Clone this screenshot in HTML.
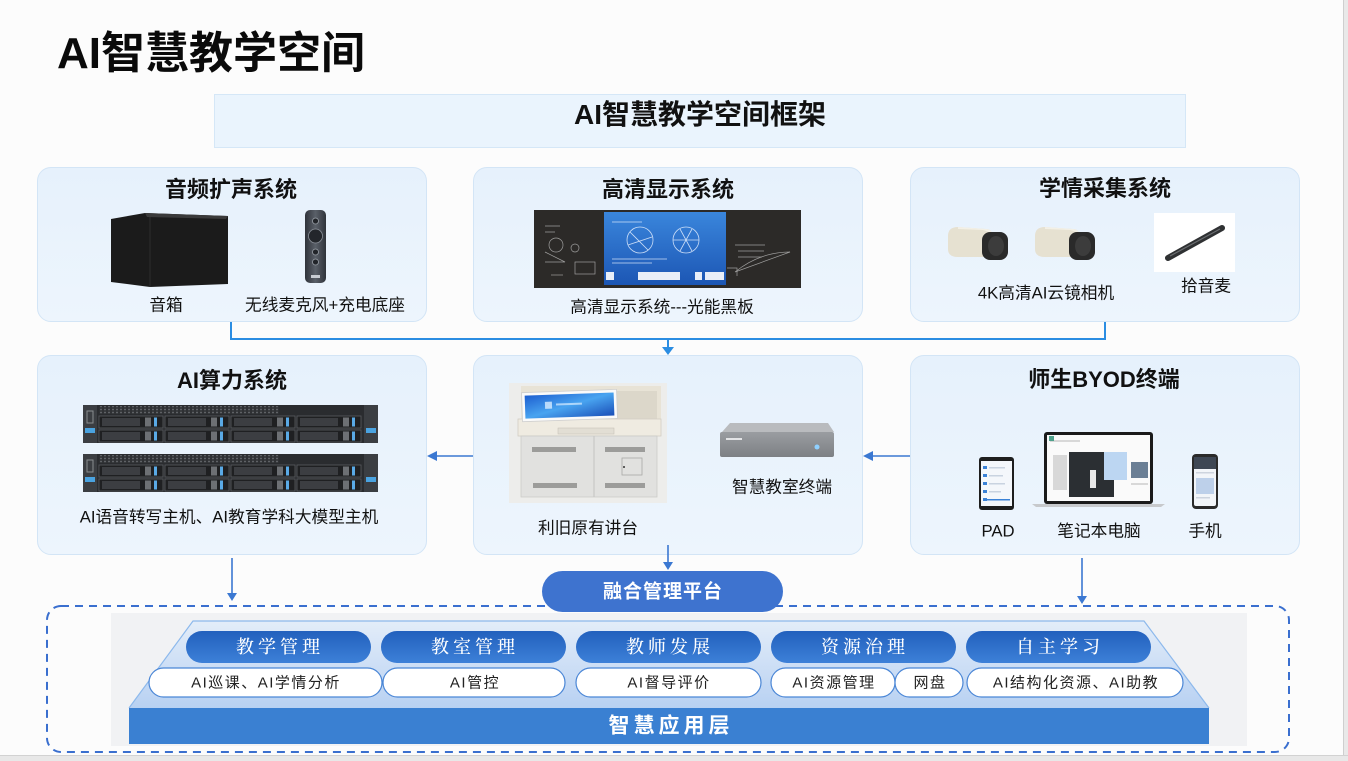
<!DOCTYPE html>
<html><head><meta charset="utf-8">
<style>
*{margin:0;padding:0;box-sizing:border-box}
body{width:1348px;height:761px;position:relative;background:#fcfcfc;font-family:"Liberation Sans","Noto Sans CJK SC",sans-serif;overflow:hidden;color:#111}
.abs{position:absolute}
.box{position:absolute;background:linear-gradient(180deg,#e6f1fc,#edf5fd);border:1px solid #d3e5f6;border-radius:14px}
.tx{position:absolute;transform:translate(-50%,-50%);white-space:nowrap;line-height:1}
.ti{font-size:22px;font-weight:700;color:#111}
.lb{font-size:16.7px;color:#111}
.dp{font-family:"Liberation Serif","Noto Serif CJK SC",serif;font-size:18px;color:#fff;letter-spacing:4px;font-weight:500}
.wp{font-size:15px;color:#222;letter-spacing:1.5px}
</style></head><body>

<div class="abs" style="left:1343px;top:0;width:5px;height:761px;background:#e9e9e9;border-left:1px solid #cfcfcf"></div>
<div class="abs" style="left:0;top:755px;width:1348px;height:6px;background:#e8e8e8;border-top:1px solid #d2d2d2"></div>

<div class="abs" style="left:57px;top:30px;font-size:44px;font-weight:700;line-height:48px;color:#0a0a0a;white-space:nowrap">AI智慧教学空间</div>

<div class="abs" style="left:214px;top:94px;width:972px;height:54px;background:#eaf4fd;border:1px solid #d5e7f7"></div>

<div class="box" style="left:37px;top:167px;width:390px;height:155px"></div>
<div class="box" style="left:473px;top:167px;width:390px;height:155px"></div>
<div class="box" style="left:910px;top:167px;width:390px;height:155px"></div>
<div class="box" style="left:37px;top:355px;width:390px;height:200px"></div>
<div class="box" style="left:473px;top:355px;width:390px;height:200px"></div>
<div class="box" style="left:910px;top:355px;width:390px;height:200px"></div>

<svg class="abs" style="left:0;top:0" width="1348" height="761" viewBox="0 0 1348 761">
<defs>
 <linearGradient id="trap" x1="0" y1="0" x2="0" y2="1"><stop offset="0" stop-color="#e3edf9"/><stop offset="1" stop-color="#b8d1f2"/></linearGradient>
 <linearGradient id="dpg" x1="0" y1="0" x2="0" y2="1"><stop offset="0" stop-color="#2260bd"/><stop offset="1" stop-color="#3d80d8"/></linearGradient>
 <linearGradient id="scr" x1="0" y1="0" x2="0" y2="1"><stop offset="0" stop-color="#3a86dc"/><stop offset="1" stop-color="#1c56b4"/></linearGradient>
 <linearGradient id="win" x1="0" y1="0" x2="1" y2="1"><stop offset="0" stop-color="#1d5fd0"/><stop offset="0.5" stop-color="#49a4f0"/><stop offset="1" stop-color="#1a4fb8"/></linearGradient>
 <linearGradient id="rem" x1="0" y1="0" x2="1" y2="0"><stop offset="0" stop-color="#2f333a"/><stop offset="0.5" stop-color="#5a6069"/><stop offset="1" stop-color="#2f333a"/></linearGradient>
 <linearGradient id="term" x1="0" y1="0" x2="0" y2="1"><stop offset="0" stop-color="#9a9da1"/><stop offset="1" stop-color="#7d8084"/></linearGradient>
 <pattern id="vent" width="4" height="3" patternUnits="userSpaceOnUse"><rect width="4" height="3" fill="#2f3134"/><circle cx="2" cy="1.5" r="0.9" fill="#6a6d72"/></pattern>
 <g id="srv">
  <rect x="0" y="0" width="295" height="38" fill="#2a2c2f"/>
  <rect x="0" y="0" width="14" height="38" fill="#3b3e42"/>
  <rect x="2" y="23" width="10" height="5" fill="#4aa3e0"/>
  <rect x="4" y="6" width="6" height="12" fill="none" stroke="#8a8d90" stroke-width="1"/>
  <rect x="281" y="0" width="14" height="38" fill="#3b3e42"/>
  <rect x="283" y="23" width="10" height="5" fill="#4aa3e0"/>
  <rect x="16" y="1" width="180" height="8" fill="url(#vent)"/>
  <g id="bay"><rect x="16" y="11" width="64" height="12" fill="#1f2022" stroke="#5a5d61" stroke-width="0.8"/><rect x="19" y="13" width="38" height="8" fill="#3c3e42"/><rect x="62" y="12.5" width="6" height="9" fill="#6d7074"/><rect x="71" y="12.5" width="3" height="9" fill="#5aaae6"/></g>
  <use href="#bay" x="66"/><use href="#bay" x="132"/><use href="#bay" x="198"/>
  <use href="#bay" y="14"/><use href="#bay" x="66" y="14"/><use href="#bay" x="132" y="14"/><use href="#bay" x="198" y="14"/>
 </g>
</defs>

<!-- speaker -->
<polygon points="111,219 145,213 228,216 228,284 150,287 111,282" fill="#1b1b1b"/>
<polygon points="145,213 228,216 226,219 147,217" fill="#3a3a3a"/>
<line x1="150" y1="217" x2="150" y2="287" stroke="#2e2e2e" stroke-width="1"/>
<!-- remote -->
<rect x="305" y="210" width="21" height="73" rx="5" fill="url(#rem)"/>
<circle cx="315.5" cy="221" r="3" fill="#22252a" stroke="#9aa0a8" stroke-width="0.8"/>
<circle cx="315.5" cy="236" r="7" fill="#23262b" stroke="#8a9098" stroke-width="0.8"/>
<circle cx="315.5" cy="252" r="3" fill="#22252a" stroke="#9aa0a8" stroke-width="0.8"/>
<circle cx="315.5" cy="262" r="3" fill="#22252a" stroke="#9aa0a8" stroke-width="0.8"/>
<rect x="311" y="275" width="9" height="3" fill="#c8ccd2"/>

<!-- blackboard -->
<rect x="534" y="210" width="267" height="78" fill="#2c2a28"/>
<g stroke="#bbb" stroke-width="0.7" fill="none" opacity="0.8">
 <circle cx="556" cy="245" r="7"/><circle cx="575" cy="248" r="4"/><path d="M545 262 h20 l-20 -10"/>
 <rect x="575" y="262" width="20" height="12"/><path d="M551 275 h12"/>
 <path d="M735 272 q25 -20 55 -20 l-55 20"/><path d="M735 245 h30 M738 251 h26 M738 257 h24"/>
 <path d="M727 268 h10 v8"/><path d="M545 226 h15 M545 232 h10"/>
</g>
<rect x="604" y="212" width="122" height="73" fill="url(#scr)"/>
<g stroke="#e8f1ff" stroke-width="0.8" fill="none" opacity="0.85">
 <circle cx="640" cy="240" r="13"/><circle cx="686" cy="240" r="13"/>
 <path d="M673 240 h26 M680 229 l12 22 M680 251 l12 -22"/><path d="M630 232 l18 18 M628 245 l24 -8"/>
 <path d="M612 222 h30 M612 259 h55 M612 263 h40"/>
</g>
<rect x="606" y="272" width="8" height="8" fill="#e8eef8"/>
<rect x="638" y="272" width="42" height="8" fill="#e8eef8"/>
<rect x="695" y="272" width="7" height="8" fill="#e8eef8"/>
<rect x="705" y="272" width="19" height="8" fill="#e8eef8"/>

<!-- cameras -->
<g>
 <path d="M948 236 q0 -9 10 -9 l28 2 q6 0 6 6 l0 16 q0 6 -6 6 l-28 0 q-10 0 -10 -8z" fill="#e6e1d1"/>
 <path d="M958 227 l28 2 q6 0 6 6 l-3 0 q0 -4 -6 -5 l-25 -1z" fill="#f3f0e6"/>
 <rect x="982" y="232" width="26" height="28" rx="8" fill="#2a2a2a"/>
 <ellipse cx="996" cy="246" rx="8" ry="10" fill="#3c3c3c"/>
</g>
<g transform="translate(87,0)">
 <path d="M948 236 q0 -9 10 -9 l28 2 q6 0 6 6 l0 16 q0 6 -6 6 l-28 0 q-10 0 -10 -8z" fill="#e6e1d1"/>
 <path d="M958 227 l28 2 q6 0 6 6 l-3 0 q0 -4 -6 -5 l-25 -1z" fill="#f3f0e6"/>
 <rect x="982" y="232" width="26" height="28" rx="8" fill="#2a2a2a"/>
 <ellipse cx="996" cy="246" rx="8" ry="10" fill="#3c3c3c"/>
</g>
<rect x="1154" y="213" width="81" height="59" fill="#ffffff"/>
<line x1="1168" y1="258" x2="1222" y2="228" stroke="#2f3133" stroke-width="6" stroke-linecap="round"/>
<line x1="1170" y1="256" x2="1220" y2="229" stroke="#6a6d70" stroke-width="1.2"/>

<!-- servers -->
<use href="#srv" x="83" y="405"/>
<use href="#srv" x="83" y="454"/>

<!-- podium -->
<rect x="509" y="383" width="158" height="120" fill="#ededeb"/>
<rect x="521" y="386" width="140" height="38" fill="#e8e3d6"/>
<rect x="615" y="391" width="42" height="28" fill="#dcd7ca"/>
<rect x="518" y="419" width="143" height="17" fill="#efebe1" stroke="#d2cec4" stroke-width="0.8"/>
<rect x="558" y="428" width="56" height="6" fill="#e2ded4" stroke="#c8c4ba" stroke-width="0.6"/>
<g transform="rotate(-2 570 405)">
<rect x="522" y="391" width="95" height="29" fill="#fafafa" stroke="#cfcfcf" stroke-width="0.8"/>
<rect x="525" y="394" width="89" height="23" fill="url(#win)"/>
<rect x="545" y="401" width="7" height="7" fill="#d8ecff" opacity="0.8"/>
<rect x="556" y="403" width="26" height="2" fill="#d8ecff" opacity="0.7"/>
</g>
<rect x="521" y="436" width="136" height="61" fill="#e1e1df" stroke="#cbcbc8" stroke-width="0.8"/>
<line x1="594" y1="436" x2="594" y2="497" stroke="#c4c4c1" stroke-width="1"/>
<g fill="#9c9c9a">
 <rect x="532" y="447" width="44" height="5"/><rect x="605" y="447" width="40" height="5"/>
 <rect x="533" y="483" width="44" height="5"/><rect x="605" y="483" width="40" height="5"/>
</g>
<rect x="622" y="458" width="20" height="17" fill="none" stroke="#a9a9a6" stroke-width="0.8"/>
<circle cx="624" cy="467" r="1" fill="#333"/>

<!-- terminal -->
<polygon points="730,423 828,423 834,432 722,432" fill="#b9bbbe"/>
<rect x="720" y="432" width="114" height="25" rx="2" fill="url(#term)"/>
<rect x="726" y="438" width="16" height="2" fill="#e3e4e6"/>
<circle cx="817" cy="447" r="2.5" fill="#8fd0ff"/>

<!-- PAD -->
<rect x="979" y="457" width="35" height="53" rx="3" fill="#1e1e1e"/>
<rect x="981" y="461" width="31" height="45" fill="#f4f7fb"/>
<g fill="#3b82d6"><rect x="983" y="466" width="4" height="3"/><rect x="983" y="474" width="4" height="3"/><rect x="983" y="482" width="4" height="3"/><rect x="983" y="490" width="4" height="3"/><rect x="983" y="498" width="4" height="3"/></g>
<g fill="#c9d3e0"><rect x="989" y="467" width="16" height="1.5"/><rect x="989" y="475" width="14" height="1.5"/><rect x="989" y="483" width="16" height="1.5"/><rect x="989" y="491" width="12" height="1.5"/></g>
<rect x="983" y="499" width="27" height="1.5" fill="#3b82d6"/>
<!-- laptop -->
<rect x="1044" y="432" width="109" height="72" rx="3" fill="#1a1a1a"/>
<rect x="1047" y="435" width="103" height="66" fill="#fafafa"/>
<rect x="1069" y="452" width="45" height="45" fill="#2b2f33"/>
<rect x="1104" y="452" width="23" height="28" fill="#bcd6f2"/>
<rect x="1090" y="470" width="6" height="18" fill="#e8e8e8"/>
<rect x="1131" y="462" width="17" height="16" fill="#6b7f95"/>
<g fill="#d8d8d8"><rect x="1053" y="455" width="14" height="35"/><rect x="1050" y="440" width="30" height="2"/><rect x="1131" y="483" width="17" height="2"/></g>
<rect x="1049" y="436" width="5" height="5" fill="#4fa18c"/>
<path d="M1032 504 h133 l-4 3 h-125z" fill="#c7c9cc"/>
<!-- phone -->
<rect x="1192" y="454" width="26" height="55" rx="4" fill="#2a2a2a"/>
<rect x="1194" y="457" width="22" height="49" rx="2" fill="#f2f5f9"/>
<rect x="1194" y="457" width="22" height="12" fill="#3e4754"/>
<rect x="1196" y="478" width="18" height="16" fill="#bdd0ea"/>
<g fill="#cdd4de"><rect x="1196" y="472" width="18" height="1.5"/><rect x="1196" y="497" width="14" height="1.5"/></g>

<!-- connectors -->
<path d="M231 322 V339 H1105 V322" fill="none" stroke="#2b8de2" stroke-width="2"/>
<line x1="668" y1="339" x2="668" y2="349" stroke="#2b8de2" stroke-width="2"/>
<polygon points="662,347 674,347 668,355" fill="#2b8de2"/>

<g stroke="#3b78d2" stroke-width="1.6">
 <line x1="473" y1="456" x2="434" y2="456"/>
 <line x1="910" y1="456" x2="870" y2="456"/>
 <line x1="232" y1="558" x2="232" y2="594"/>
 <line x1="668" y1="545" x2="668" y2="563"/>
 <line x1="1082" y1="558" x2="1082" y2="597"/>
</g>
<g fill="#3b78d2">
 <polygon points="427,456 437,451 437,461"/>
 <polygon points="863,456 873,451 873,461"/>
 <polygon points="227,593 237,593 232,601"/>
 <polygon points="663,562 673,562 668,570"/>
 <polygon points="1077,596 1087,596 1082,604"/>
</g>

<!-- bottom area -->
<rect x="47" y="606" width="1242" height="146" rx="14" fill="none" stroke="#3a6fcf" stroke-width="2" stroke-dasharray="8 6"/>
<rect x="111" y="613" width="1136" height="133" fill="#f1f2f4"/>
<polygon points="193,621 1144,621 1209,708 129,708" fill="url(#trap)"/>
<polyline points="129,708 193,621 1144,621 1209,708" fill="none" stroke="#8db9ec" stroke-width="1.2"/>
<rect x="129" y="708" width="1080" height="36" fill="#3a80d2"/>

<rect x="542" y="571" width="241" height="41" rx="20.5" fill="#3e73cf"/>

<g fill="url(#dpg)">
 <rect x="186" y="631" width="185" height="32" rx="16"/>
 <rect x="381" y="631" width="185" height="32" rx="16"/>
 <rect x="576" y="631" width="185" height="32" rx="16"/>
 <rect x="771" y="631" width="185" height="32" rx="16"/>
 <rect x="966" y="631" width="185" height="32" rx="16"/>
</g>
<g fill="#ffffff" stroke="#4a86d6" stroke-width="1.2">
 <rect x="149" y="668" width="233" height="29" rx="14.5"/>
 <rect x="383" y="668" width="182" height="29" rx="14.5"/>
 <rect x="576" y="668" width="185" height="29" rx="14.5"/>
 <rect x="771" y="668" width="124" height="29" rx="14.5"/>
 <rect x="895" y="668" width="68" height="29" rx="14.5"/>
 <rect x="967" y="668" width="216" height="29" rx="14.5"/>
</g>
</svg>

<!-- texts -->
<div class="tx" style="left:700px;top:115px;font-size:28px;font-weight:700">AI智慧教学空间框架</div>

<div class="tx ti" style="left:231px;top:190px">音频扩声系统</div>
<div class="tx ti" style="left:668px;top:190px">高清显示系统</div>
<div class="tx ti" style="left:1105px;top:189px">学情采集系统</div>
<div class="tx ti" style="left:232px;top:381px">AI算力系统</div>
<div class="tx ti" style="left:1104px;top:380px">师生BYOD终端</div>

<div class="tx lb" style="left:166px;top:306px">音箱</div>
<div class="tx lb" style="left:325px;top:306px">无线麦克风+充电底座</div>
<div class="tx lb" style="left:662px;top:308px">高清显示系统---光能黑板</div>
<div class="tx lb" style="left:1046px;top:294px">4K高清AI云镜相机</div>
<div class="tx lb" style="left:1206px;top:287px">拾音麦</div>
<div class="tx lb" style="left:229px;top:518px">AI语音转写主机、AI教育学科大模型主机</div>
<div class="tx lb" style="left:588px;top:529px">利旧原有讲台</div>
<div class="tx lb" style="left:782px;top:488px">智慧教室终端</div>
<div class="tx lb" style="left:998px;top:532px">PAD</div>
<div class="tx lb" style="left:1099px;top:532px">笔记本电脑</div>
<div class="tx lb" style="left:1205px;top:532px">手机</div>

<div class="tx" style="left:663px;top:592px;font-size:19px;font-weight:700;color:#fff;letter-spacing:1px">融合管理平台</div>

<div class="tx dp" style="left:280px;top:647px">教学管理</div>
<div class="tx dp" style="left:475px;top:647px">教室管理</div>
<div class="tx dp" style="left:670px;top:647px">教师发展</div>
<div class="tx dp" style="left:865px;top:647px">资源治理</div>
<div class="tx dp" style="left:1060px;top:647px">自主学习</div>

<div class="tx wp" style="left:266px;top:683px">AI巡课、AI学情分析</div>
<div class="tx wp" style="left:475px;top:683px">AI管控</div>
<div class="tx wp" style="left:669px;top:683px">AI督导评价</div>
<div class="tx wp" style="left:834px;top:683px">AI资源管理</div>
<div class="tx wp" style="left:930px;top:683px">网盘</div>
<div class="tx wp" style="left:1076px;top:683px">AI结构化资源、AI助教</div>

<div class="tx" style="left:671px;top:726px;font-size:21px;font-weight:700;color:#fff;letter-spacing:4px">智慧应用层</div>

</body></html>
